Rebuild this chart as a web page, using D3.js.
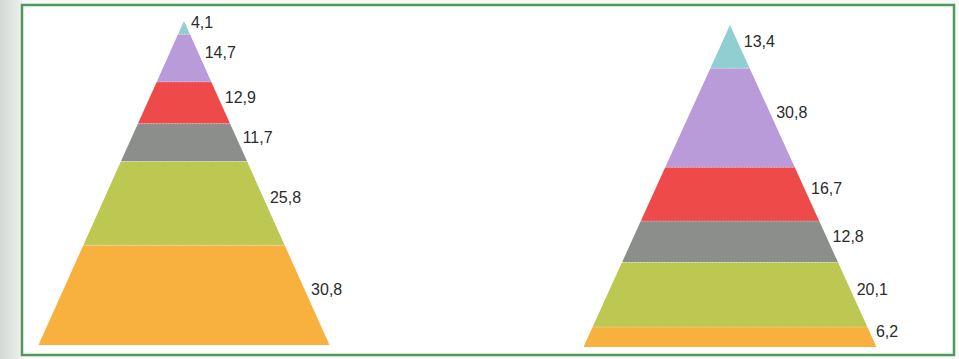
<!DOCTYPE html>
<html>
<head>
<meta charset="utf-8">
<script src="https://cdn.jsdelivr.net/npm/d3@7"></script>
<style>
html,body{margin:0;padding:0;background:#fff;}
svg{display:block;}
</style>
</head>
<body>
<svg id="chart" width="959" height="359"></svg>
<script>
// Levels, top to bottom
const levels = ["niveau 1", "niveau 2", "niveau 3", "niveau 4", "niveau 5", "niveau 6"];
const leftValues = [4.1, 14.7, 12.9, 11.7, 25.8, 30.8];
const rightValues = [13.4, 30.8, 16.7, 12.8, 20.1, 6.2];
const levelColors = ["#8fcfd2", "#b89bd8", "#ef4a4a", "#8c8e8c", "#bcc852", "#f8b03f"];

const svg = d3.select("#chart");
const W = 959, H = 359;

// background / scan edge
const defs = svg.append("defs");
const g1 = defs.append("linearGradient").attr("id", "edge").attr("x1", "0").attr("x2", "1");
g1.append("stop").attr("offset", "0").attr("stop-color", "#d3d9d4");
g1.append("stop").attr("offset", "1").attr("stop-color", "#eef1ee");
svg.append("rect").attr("x", 0).attr("y", 0).attr("width", W).attr("height", H).attr("fill", "#f7f8f7");
svg.append("rect").attr("x", 0).attr("y", 0).attr("width", 22).attr("height", H).attr("fill", "url(#edge)");
svg.append("rect").attr("x", 22).attr("y", 5).attr("width", 932).attr("height", 350)
  .attr("fill", "#ffffff").attr("stroke", "#4f9a57").attr("stroke-width", 2.5);

const fmt = d3.formatLocale({decimal: ",", thousands: ".", grouping: [3], currency: ["", "€"]}).format(".1f");

function pyramid(values, cx, apexY, baseY, baseHalf) {
  const total = d3.sum(values);
  const y = d3.scaleLinear().domain([0, total]).range([apexY, baseY]);
  const half = d3.scaleLinear().domain([0, total]).range([0, baseHalf]);
  const cum = [0];
  values.forEach((v, i) => cum.push(cum[i] + v));
  const bands = values.map((v, i) => ({v, i, a: cum[i], b: cum[i + 1]}));
  const g = svg.append("g");
  g.selectAll("path.band").data(bands).join("path")
    .attr("class", "band")
    .attr("d", d => {
      const y0 = y(d.a), y1 = y(d.b), h0 = half(d.a), h1 = half(d.b);
      return `M${cx - h0},${y0}L${cx + h0},${y0}L${cx + h1},${y1}L${cx - h1},${y1}Z`;
    })
    .attr("fill", d => levelColors[d.i]);
  // thin light separators
  g.selectAll("line.sep").data(bands.slice(1)).join("line")
    .attr("class", "sep")
    .attr("x1", d => cx - half(d.a)).attr("x2", d => cx + half(d.a))
    .attr("y1", d => y(d.a)).attr("y2", d => y(d.a))
    .attr("stroke", "#ffffff").attr("stroke-opacity", 0.45).attr("stroke-width", 0.8)
    .attr("stroke-dasharray", "2,1");
  g.selectAll("text").data(bands).join("text")
    .attr("x", d => cx + half((d.a + d.b) / 2) + 4)
    .attr("y", d => y((d.a + d.b) / 2))
    .attr("font-family", "Liberation Sans, Arial, sans-serif")
    .attr("font-size", 16)
    .attr("fill", "#2b2b2b")
    .text(d => fmt(d.v));
}

pyramid(leftValues, 184, 21, 345, 145.5);
pyramid(rightValues, 730, 25, 347, 146.5);
</script>
</body>
</html>
